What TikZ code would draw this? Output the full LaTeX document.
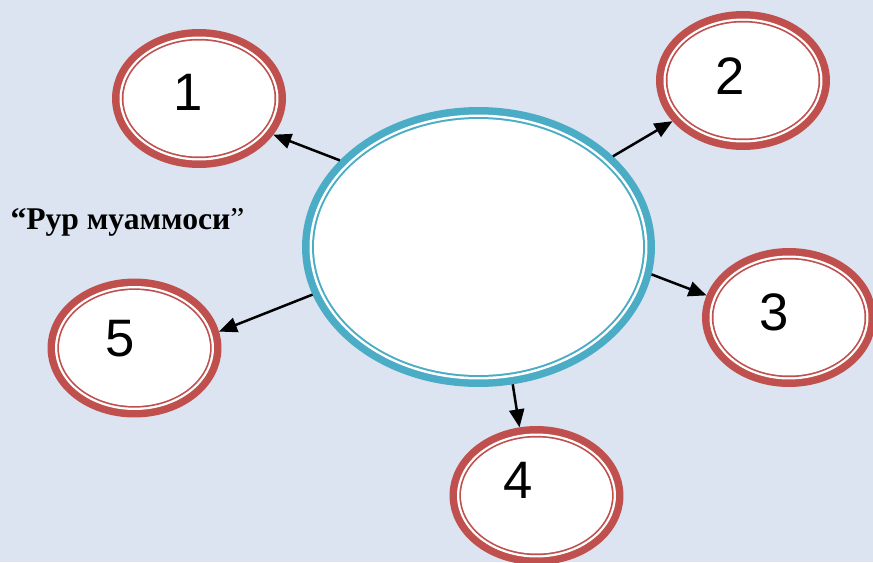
\documentclass[tikz,border=0pt]{standalone}
\usepackage{fontspec}
\setmainfont{Liberation Serif}
\newfontfamily\digitfont{Liberation Sans}
\usetikzlibrary{shapes.geometric,arrows.meta}

\definecolor{bgblue}{RGB}{219,228,240}
\definecolor{ringteal}{RGB}{75,172,198}
\definecolor{ringred}{RGB}{192,80,77}

\tikzset{
  ringbig/.style={ellipse, fill=white, inner sep=0pt,
    minimum width=6.58cm, minimum height=5.12cm, outer sep=0.24cm,
    preaction={draw=ringteal, line width=0.48cm},
    preaction={draw=white, line width=0.18cm},
    preaction={draw=ringteal, line width=0.08cm}},
  ringsmall/.style={ellipse, fill=white, inner sep=0pt,
    minimum width=3.02cm, minimum height=2.32cm, outer sep=0.23cm,
    preaction={draw=ringred, line width=0.46cm},
    preaction={draw=white, line width=0.16cm},
    preaction={draw=ringred, line width=0.068cm}},
  digit/.style={font=\digitfont\fontsize{30}{30}\selectfont},
  link/.style={-{Triangle[length=0.36cm, width=0.3cm]}, line width=0.05cm}
}

\begin{document}
\begin{tikzpicture}[x=0.02cm, y=-0.02cm]
    \fill [bgblue] (0, 0) rectangle (873, 562);
    \useasboundingbox (0, 0) rectangle (873, 562);
    % centre
    \node [ringbig]   (core) at (478.5, 247) {};
    % outer rings
    \node [ringsmall, label={[digit, xshift=-0.22cm, yshift=0.12cm]center:1}] (n1) at (199, 98.5) {};
    \node [ringsmall, label={[digit, xshift=-0.26cm, yshift=0.09cm]center:2}] (n2) at (743, 80.5) {};
    \node [ringsmall, label={[digit, xshift=-0.29cm, yshift=0.11cm]center:3}] (n3) at (789, 317.5) {};
    \node [ringsmall, label={[digit, xshift=-0.36cm, yshift=0.31cm]center:4}] (n4) at (536.5, 495.5) {};
    \node [ringsmall, label={[digit, xshift=-0.28cm, yshift=0.19cm]center:5}] (n5) at (134.5, 348) {};
    % title
    \node [anchor=base, font=\fontsize{18}{18}\selectfont] (title) at (127.5, 229)
          {\textbf{“Рур муаммоси}”};
    % links
    \draw [link] (core.148) -- (n1.334);
    \draw [link] (core.34)  -- (n2.210);
    \draw [link] (core.351) -- (n3.165);
    \draw [link] (core.284) -- (n4.104);
    \draw [link] (core.196) -- (n5.11);
\end{tikzpicture}
\end{document}
